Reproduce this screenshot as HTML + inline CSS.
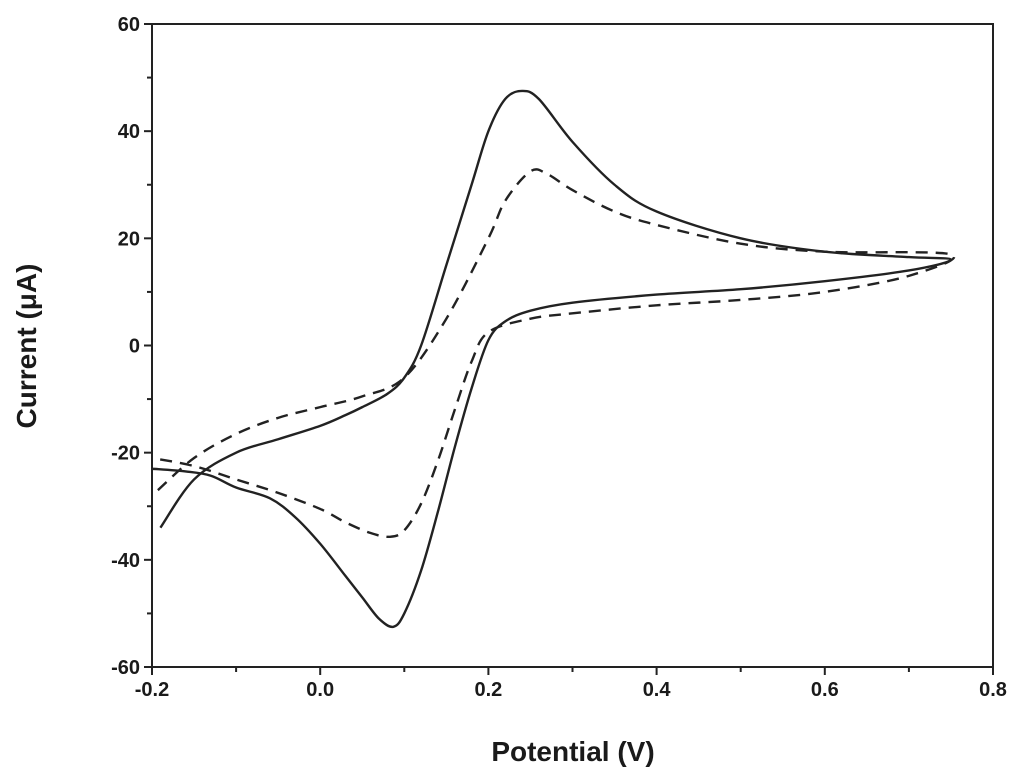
<!DOCTYPE html>
<html><head><meta charset="utf-8"><style>
body{margin:0;background:#fff}
svg{display:block;font-family:"Liberation Sans",Arial,sans-serif}
</style></head><body>
<svg id="chart" width="1024" height="780" viewBox="0 0 1024 780">
<g id="axes"></g><g id="series"></g>
<text x="573" y="761" text-anchor="middle" font-size="28" font-weight="bold" fill="#1a1a1a">Potential (V)</text>
<text transform="translate(36,346) rotate(-90)" text-anchor="middle" font-size="28" font-weight="bold" fill="#1a1a1a">Current (μA)</text>
</svg>
<script>
const xTicks=[-0.2,0,0.2,0.4,0.6,0.8];
const xTickLabels=["-0.2","0.0","0.2","0.4","0.6","0.8"];
const yTicks=[-60,-40,-20,0,20,40,60];
const yTickLabels=["-60","-40","-20","0","20","40","60"];
const solidE=[-0.19,-0.15,-0.1,-0.05,0,0.03,0.05,0.08,0.1,0.12,0.15,0.18,0.2,0.22,0.24,0.26,0.3,0.35,0.4,0.5,0.6,0.7,0.75,0.7,0.6,0.5,0.4,0.3,0.25,0.22,0.2,0.18,0.16,0.14,0.12,0.1,0.087,0.07,0.05,0.03,0,-0.03,-0.06,-0.1,-0.13,-0.16,-0.2];
const solidI=[-34,-25,-20,-17.5,-15,-13,-11.5,-9,-6,0,15,30,40,46,47.5,46,38,30,25,20,17.5,16.5,16,14,12,10.5,9.5,8,6.5,4.5,1,-8,-19,-31,-42,-50,-52.5,-51,-47,-43,-37,-32,-28.5,-26.5,-24.3,-23.5,-23];
const dashE=[-0.193,-0.15,-0.1,-0.05,0,0.05,0.1,0.15,0.2,0.22,0.25,0.27,0.3,0.35,0.4,0.5,0.6,0.75,0.7,0.6,0.5,0.4,0.3,0.25,0.2,0.18,0.16,0.14,0.12,0.1,0.083,0.06,0.03,0,-0.05,-0.1,-0.15,-0.2];
const dashI=[-27,-21,-16.5,-13.5,-11.5,-9.5,-6,5,20,27,32.5,32,29,25,22.5,19,17.5,17,13,10,8.5,7.5,6,5,2.5,-3,-12,-21.5,-29.5,-34.5,-35.7,-35,-33,-30.5,-27.5,-25,-22.5,-21];
const X0=152,X1=993,Y0=667,Y1=24;
const sx=e=>X0+(e+0.2)/1.0*(X1-X0);
const sy=i=>Y0-(i+60)/120*(Y0-Y1);
const NS="http://www.w3.org/2000/svg";
const ax=document.getElementById('axes'),se=document.getElementById('series');
function mk(t,a,p){const e=document.createElementNS(NS,t);for(const k in a)e.setAttribute(k,a[k]);p.appendChild(e);return e;}
const frame=mk('rect',{x:X0,y:Y1,width:X1-X0,height:Y0-Y1,fill:'none',stroke:'#222','stroke-width':2},ax);


for(let v=-0.2;v<=0.8001;v+=0.1){const m=Math.abs(Math.round(v*10)%2)===0;
const t=mk('line',{x1:sx(v),x2:sx(v),y1:Y0,y2:Y0+(m?8:5),stroke:'#222','stroke-width':2},ax);

}
for(let v=-60;v<=60;v+=10){const m=v%20===0;
const t=mk('line',{x1:X0,x2:X0-(m?8:5),y1:sy(v),y2:sy(v),stroke:'#222','stroke-width':2},ax);

}
xTicks.forEach((v,k)=>{const t=mk('text',{x:sx(v),y:Y0+29,'text-anchor':'middle','font-size':20,'font-weight':'bold',fill:'#1a1a1a'},ax);t.textContent=xTickLabels[k];

});
yTicks.forEach((v,k)=>{const t=mk('text',{x:X0-12,y:sy(v)+7,'text-anchor':'end','font-size':20,'font-weight':'bold',fill:'#1a1a1a'},ax);t.textContent=yTickLabels[k];

});
function path(E,I){const p=E.map((e,k)=>[sx(e),sy(I[k])]);let d='M'+p[0][0]+','+p[0][1];
for(let k=0;k<p.length-1;k++){const a=p[k-1]||p[k],b=p[k],c=p[k+1],n=p[k+2]||c;
d+=' C'+(b[0]+(c[0]-a[0])/6)+','+(b[1]+(c[1]-a[1])/6)+' '+(c[0]-(n[0]-b[0])/6)+','+(c[1]-(n[1]-b[1])/6)+' '+c[0]+','+c[1];}return d;}
const s=mk('path',{d:path(solidE,solidI),fill:'none',stroke:'#222','stroke-width':2.4},se);


const d=mk('path',{d:path(dashE,dashI),fill:'none',stroke:'#222','stroke-width':2.4,'stroke-dasharray':'12,8'},se);


</script>
</body></html>
